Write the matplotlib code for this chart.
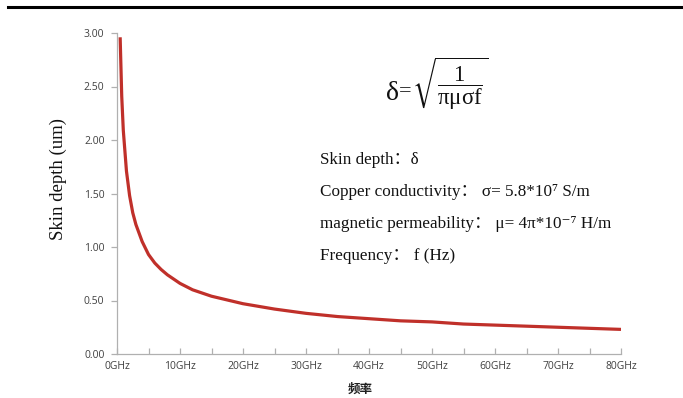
import matplotlib
matplotlib.use("Agg")
import matplotlib.pyplot as plt
from matplotlib.lines import Line2D

# Data
freq_ghz = [0.5, 0.75, 1, 1.5, 2, 2.5, 3, 4, 5, 6, 7, 8, 10, 12, 15, 20, 25, 30,
            35, 40, 45, 50, 55, 60, 65, 70, 75, 80]
skin_depth_um = [2.96, 2.41, 2.09, 1.71, 1.48, 1.32, 1.21, 1.05, 0.93, 0.85, 0.79,
                 0.74, 0.66, 0.60, 0.54, 0.47, 0.42, 0.38, 0.35, 0.33, 0.31, 0.30,
                 0.28, 0.27, 0.26, 0.25, 0.24, 0.23]
x_ticks = [0, 10, 20, 30, 40, 50, 60, 70, 80]
x_tick_labels = ["0GHz", "10GHz", "20GHz", "30GHz", "40GHz", "50GHz", "60GHz", "70GHz", "80GHz"]
y_ticks = [0.0, 0.5, 1.0, 1.5, 2.0, 2.5, 3.0]
y_tick_labels = ["0.00", "0.50", "1.00", "1.50", "2.00", "2.50", "3.00"]

plt.rcParams["mathtext.fontset"] = "custom"
plt.rcParams["mathtext.rm"] = "Liberation Serif"
plt.rcParams["mathtext.it"] = "Liberation Serif"
plt.rcParams["mathtext.bf"] = "Liberation Serif:bold"
plt.rcParams["mathtext.fallback"] = "stix"

fig = plt.figure(figsize=(6.83, 3.98), dpi=100)
fig.patch.set_facecolor("white")
ax = fig.add_axes([117/683, 1-354/398, (621-117)/683, (354-33)/398])

ax.plot(freq_ghz, skin_depth_um, color="#c0302a", lw=2.3, solid_capstyle="butt")
ax.set_xlim(0, 80)
ax.set_ylim(0, 3.0)
ax.set_xticks(x_ticks)
ax.set_xticklabels(x_tick_labels)
ax.set_xticks([5, 15, 25, 35, 45, 55, 65, 75], minor=True)
ax.set_yticks(y_ticks)
ax.set_yticklabels(y_tick_labels)

for s in ["top", "right"]:
    ax.spines[s].set_visible(False)
for s in ["left", "bottom"]:
    ax.spines[s].set_color("#b0b0b0")
    ax.spines[s].set_linewidth(0.9)
ax.tick_params(axis="both", which="both", color="#b0b0b0", length=4, width=0.9,
               labelsize=7.5, labelcolor="#404040", pad=5)
ax.tick_params(axis="x", which="both", direction="in", length=4)
ax.tick_params(axis="y", direction="out", length=4)
for lab in ax.get_xticklabels() + ax.get_yticklabels():
    lab.set_family(["Open Sans", "DejaVu Sans"])

fig.text(58/683, 1-179/398, "Skin depth (um)", family="Liberation Serif", fontsize=13.5,
         rotation=90, ha="center", va="center", color="#111111")
fig.text(360/683, 1-389/398, "频率", family=["Noto Sans CJK SC", "DejaVu Sans"],
         fontsize=9, fontweight="bold", ha="center", va="center", color="#202020")

# top rule
fig.add_artist(Line2D([8/683, 1.0], [1-7/398, 1-7/398], color="black", lw=2.2,
                      transform=fig.transFigure))

# formula
fig.text(386/683, 1-93/398, "δ", family="Liberation Serif", fontsize=20,
         ha="left", va="center", color="#111111")
fig.text(399/683, 1-92/398, "=", family="Liberation Serif", fontsize=16,
         ha="left", va="center", color="#111111")
fig.text(412/683, 1-84/398, r"$\sqrt{\dfrac{1}{\pi\mu\sigma \mathrm{f}}}$",
         fontsize=16.5, ha="left", va="center", color="#111111")

fam = ["Liberation Serif", "DejaVu Serif", "Noto Sans CJK SC"]
lines = [
    (160, "Skin depth：δ"),
    (192, "Copper conductivity： σ= 5.8*10⁷ S/m"),
    (224, "magnetic permeability： μ= 4π*10⁻⁷ H/m"),
    (256, "Frequency： f (Hz)"),
]
for y, t in lines:
    fig.text(320/683, 1-y/398, t, family=fam, fontsize=12.3,
             ha="left", va="center", color="#111111")

fig.savefig("out.png", dpi=100, facecolor="white")
